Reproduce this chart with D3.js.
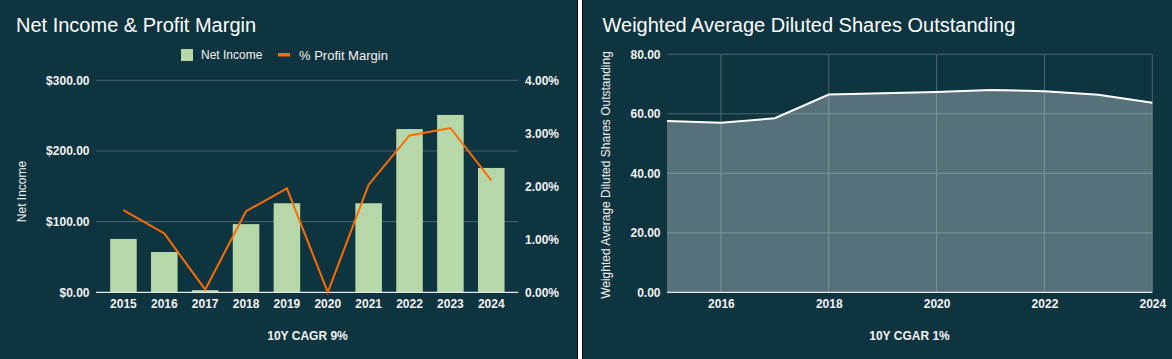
<!DOCTYPE html>
<html>
<head>
<meta charset="utf-8">
<script src="https://cdn.jsdelivr.net/npm/d3@7"></script>
<style>
  html, body { margin: 0; padding: 0; background: #ffffff; }
  svg { display: block; font-family: Arial, "Liberation Sans", sans-serif; }
</style>
</head>
<body>
<svg id="chart" width="1172" height="359"></svg>
<script>
// ---------- data ----------
const years = ["2015","2016","2017","2018","2019","2020","2021","2022","2023","2024"];
const netIncome = [75.5, 57, 3, 96.5, 126, 0, 126, 231, 251, 176];
const profitMargin = [1.55, 1.11, 0.05, 1.53, 1.96, 0, 2.03, 2.96, 3.10, 2.11];
const incomeTicks = [0, 100, 200, 300];
const marginTicks = [0, 1, 2, 3, 4];

const shareYears = [2015, 2016, 2017, 2018, 2019, 2020, 2021, 2022, 2023, 2024];
const shares = [57.6, 57.0, 58.5, 66.5, 66.9, 67.3, 68.0, 67.6, 66.4, 63.7];
const shareTicks = [0, 20, 40, 60, 80];
const shareYearTicks = [2016, 2018, 2020, 2022, 2024];

// ---------- style ----------
const BG = "#0e3440";
const GRID = "#4a6870";
const BASE = "#e6e6e6";
const LABEL = "#f2f2f2";
const BAR = "#b6d7a8";
const LINE = "#ff6d01";

const svg = d3.select("#chart");

// panels
svg.append("rect").attr("x", 0).attr("y", 0).attr("width", 577).attr("height", 359).attr("fill", BG);
svg.append("rect").attr("x", 577).attr("y", 0).attr("width", 1).attr("height", 359).attr("fill", "#000");
svg.append("rect").attr("x", 582).attr("y", 0).attr("width", 590).attr("height", 359).attr("fill", BG);
svg.append("rect").attr("x", 582).attr("y", 0).attr("width", 1).attr("height", 359).attr("fill", "#000");

function styleAxis(g, size) {
  g.select(".domain").remove();
  g.selectAll(".tick line").remove();
  g.selectAll("text")
    .attr("fill", LABEL)
    .style("font-size", size + "px")
    .style("font-weight", "bold")
    .style("font-family", "Arial, 'Liberation Sans', sans-serif");
}

// ================= LEFT CHART =================
const L = { left: 96, right: 518.3, top: 80.3, bottom: 292.3 };

const x = d3.scaleBand().domain(years).range([103, 511.7]).paddingInner(0.35).paddingOuter(0.175);
const yL = d3.scaleLinear().domain([0, 300]).range([L.bottom, L.top]);
const yR = d3.scaleLinear().domain([0, 4]).range([L.bottom, L.top]);

// title
svg.append("text").attr("x", 16).attr("y", 31.7)
  .attr("fill", "#ffffff").style("font-size", "20px")
  .text("Net Income & Profit Margin");

// legend
svg.append("rect").attr("x", 181).attr("y", 49).attr("width", 12).attr("height", 12).attr("fill", BAR);
svg.append("text").attr("x", 201).attr("y", 59.3).attr("fill", LABEL).style("font-size", "12px").text("Net Income");
svg.append("rect").attr("x", 278).attr("y", 53).attr("width", 12).attr("height", 3.5).attr("fill", LINE);
svg.append("text").attr("x", 299).attr("y", 59.5).attr("fill", LABEL).style("font-size", "13px").text("% Profit Margin");

// gridlines
svg.append("g").selectAll("line")
  .data(incomeTicks.filter(d => d > 0))
  .join("line")
  .attr("x1", L.left).attr("x2", L.right)
  .attr("y1", d => yL(d)).attr("y2", d => yL(d))
  .attr("stroke", GRID).attr("stroke-width", 1);

// bars
svg.append("g").selectAll("rect")
  .data(years)
  .join("rect")
  .attr("x", d => x(d))
  .attr("width", x.bandwidth())
  .attr("y", (d, i) => yL(netIncome[i]))
  .attr("height", (d, i) => yL(0) - yL(netIncome[i]))
  .attr("fill", BAR);

// baseline
svg.append("line").attr("x1", L.left).attr("x2", L.right)
  .attr("y1", yL(0)).attr("y2", yL(0)).attr("stroke", BASE).attr("stroke-width", 1.3);

// profit margin line
const marginLine = d3.line()
  .x((d, i) => x(years[i]) + x.bandwidth() / 2)
  .y(d => yR(d));
svg.append("path").datum(profitMargin)
  .attr("d", marginLine)
  .attr("fill", "none").attr("stroke", LINE).attr("stroke-width", 2)
  .attr("stroke-linejoin", "miter");

// axes
svg.append("g").attr("transform", `translate(${L.left},0)`)
  .call(d3.axisLeft(yL).tickValues(incomeTicks).tickSize(0).tickPadding(6.5)
    .tickFormat(d => "$" + d3.format(".2f")(d)))
  .call(g => styleAxis(g, 12));

svg.append("g").attr("transform", `translate(${L.right},0)`)
  .call(d3.axisRight(yR).tickValues(marginTicks).tickSize(0).tickPadding(6.7)
    .tickFormat(d => d3.format(".2f")(d) + "%"))
  .call(g => styleAxis(g, 12));

svg.append("g").attr("transform", `translate(0,${L.bottom})`)
  .call(d3.axisBottom(x).tickSize(0).tickPadding(7.5))
  .call(g => styleAxis(g, 12));

// axis title
svg.append("text")
  .attr("transform", "translate(26,191.5) rotate(-90)")
  .attr("text-anchor", "middle")
  .attr("fill", LABEL).style("font-size", "12px")
  .text("Net Income");

// footer
svg.append("text").attr("x", 307.5).attr("y", 339.5)
  .attr("text-anchor", "middle").attr("fill", LABEL)
  .style("font-size", "12px").style("font-weight", "bold")
  .text("10Y CAGR 9%");

// ================= RIGHT CHART =================
const R = { left: 667, right: 1152.3, top: 54.3, bottom: 292.3 };
const x2 = d3.scaleLinear().domain([2015, 2024]).range([R.left, R.right]);
const y2 = d3.scaleLinear().domain([0, 80]).range([R.bottom, R.top]);

svg.append("text").attr("x", 602.5).attr("y", 31.7)
  .attr("fill", "#ffffff").style("font-size", "20px")
  .text("Weighted Average Diluted Shares Outstanding");

// gridlines
svg.append("g").selectAll("line")
  .data(shareTicks.filter(d => d > 0))
  .join("line")
  .attr("x1", R.left).attr("x2", R.right)
  .attr("y1", d => y2(d)).attr("y2", d => y2(d))
  .attr("stroke", GRID).attr("stroke-width", 1);
svg.append("g").selectAll("line")
  .data(shareYearTicks)
  .join("line")
  .attr("x1", d => x2(d)).attr("x2", d => x2(d))
  .attr("y1", R.top).attr("y2", R.bottom)
  .attr("stroke", GRID).attr("stroke-width", 1);

// area
const area = d3.area()
  .x((d, i) => x2(shareYears[i]))
  .y0(y2(0))
  .y1(d => y2(d));
svg.append("path").datum(shares)
  .attr("d", area)
  .attr("fill", "#ffffff").attr("fill-opacity", 0.3);

const line2 = d3.line()
  .x((d, i) => x2(shareYears[i]))
  .y(d => y2(d));
svg.append("path").datum(shares)
  .attr("d", line2)
  .attr("fill", "none").attr("stroke", "#ffffff").attr("stroke-width", 2);

// baseline
svg.append("line").attr("x1", R.left).attr("x2", R.right)
  .attr("y1", y2(0)).attr("y2", y2(0)).attr("stroke", BASE).attr("stroke-width", 1.3);

// axes
svg.append("g").attr("transform", `translate(${R.left},0)`)
  .call(d3.axisLeft(y2).tickValues(shareTicks).tickSize(0).tickPadding(6.5)
    .tickFormat(d3.format(".2f")))
  .call(g => styleAxis(g, 12));

svg.append("g").attr("transform", `translate(0,${R.bottom})`)
  .call(d3.axisBottom(x2).tickValues(shareYearTicks).tickSize(0).tickPadding(7.5)
    .tickFormat(d3.format("d")))
  .call(g => styleAxis(g, 12));

svg.append("text")
  .attr("transform", "translate(610,175) rotate(-90)")
  .attr("text-anchor", "middle")
  .attr("fill", LABEL).style("font-size", "12px")
  .text("Weighted Average Diluted Shares Outstanding");

svg.append("text").attr("x", 909.5).attr("y", 339.5)
  .attr("text-anchor", "middle").attr("fill", LABEL)
  .style("font-size", "12px").style("font-weight", "bold")
  .text("10Y CGAR 1%");
</script>
</body>
</html>
